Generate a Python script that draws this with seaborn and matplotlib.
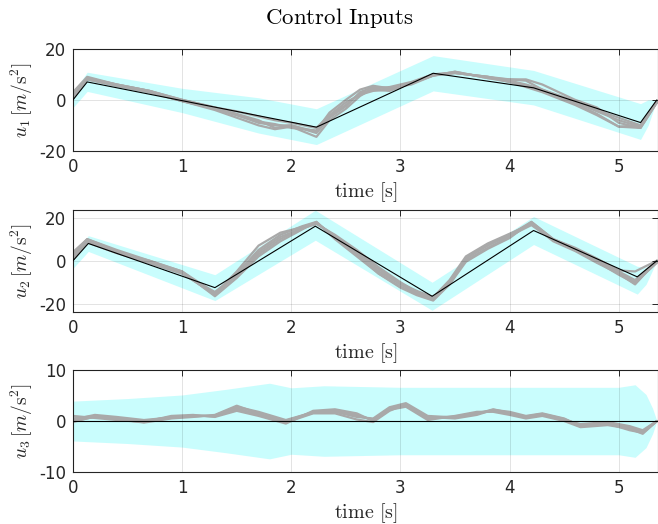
import seaborn as sns
import matplotlib.pyplot as plt
import pandas as pd
import numpy as np

# ---- data ----
# reference (black) input profiles
ref1_t = [0, 0.13, 2.23, 3.3, 4.22, 5.2, 5.35]
ref1_u = [0, 7, -10.7, 10.4, 4.7, -8.9, 0]
ref2_t = [0, 0.14, 1.3, 2.22, 3.29, 4.22, 5.17, 5.35]
ref2_u = [0, 8, -12.5, 16, -16.5, 14, -7.5, 0]
ref3_t = [0, 5.35]
ref3_u = [0, 0]

# cyan bounds
band1_t = [0, 0.13, 1.0, 1.7, 2.23, 3.3, 4.22, 5.2, 5.27, 5.35]
band1_hi = [3, 10.8, 4.5, 0.8, -3.5, 17.3, 11.5, -1.5, 0, 0]
band1_lo = [-3, 3.3, -5, -13, -17.5, 3.5, -2, -15.5, -10, 0]
band2_t = [0, 0.14, 1.3, 2.22, 3.29, 4.22, 5.17, 5.25, 5.35]
band2_hi = [3.5, 11.6, -6.5, 23.4, -10, 20.5, -2.6, -3, 0]
band2_lo = [-3.5, 4.3, -18.5, 9.5, -23, 7.5, -15.5, -11, 0]
band3_t = [0, 0.5, 1.0, 1.4, 1.8, 2.0, 2.3, 3.0, 4.0, 5.0, 5.15, 5.25, 5.31, 5.35]
band3_hi = [3.9, 4.4, 5.1, 6.2, 7.4, 6.5, 6.9, 6.6, 6.6, 6.6, 7.1, 5.2, 2.5, 0]
band3_lo = [-3.9, -4.4, -5.1, -6.2, -7.4, -6.5, -6.9, -6.6, -6.6, -6.6, -7.1, -5.2, -2.5, 0]

# sampled trajectories (gray)
t1 = [0, 0.13, 0.4, 0.7, 1.0, 1.3, 1.5, 1.7, 1.85, 2.0, 2.23, 2.35, 2.5, 2.63,
      2.75, 2.9, 3.1, 3.3, 3.5, 3.8, 4.0, 4.15, 4.3, 4.6, 4.8, 5.0, 5.2, 5.35]
runs1 = [
    [1, 8.5, 6, 3.5, 0, -3, -4.5, -6.5, -8, -9, -11, -6, -1, 2, 3.5, 4, 6.5, 9.5, 10.5, 9, 7.5, 6, 4, -0.5, -4, -7, -10, -1],
    [2, 8, 5.5, 3, -0.5, -3.5, -6, -9, -10, -10, -13, -7, -2.5, 3, 5, 4.5, 6.5, 9.5, 11, 8.5, 7, 5.5, 3.5, -1, -4.5, -8, -10.5, -0.5],
    [3, 9, 6, 3.5, -0.5, -4, -7, -10, -11.5, -10.5, -14.5, -8, -3.5, 1.5, 4.5, 5, 7, 10, 10.5, 9, 8, 8, 6, 0, -3, -9, -11, -1],
    [0.5, 8, 5.5, 3, -0.5, -3.5, -6, -8.5, -9.5, -11, -12, -5, 0, 4, 5.5, 4.5, 6, 9.5, 11, 8.5, 8, 7.5, 4, -1.5, -5.5, -10.5, -10, -0.5],
    [1.5, 8.5, 6, 3.5, 0, -3, -5.5, -8, -11, -10, -12.5, -6.5, -2, 2.5, 4, 3.5, 6.5, 10, 10.5, 9, 7, 5, 3, -2, -6, -10.5, -11, -1],
]
t2 = [0, 0.13, 0.4, 0.7, 1.0, 1.3, 1.5, 1.7, 1.9, 2.1, 2.23, 2.4, 2.6, 2.8,
      3.0, 3.15, 3.3, 3.45, 3.6, 3.8, 4.0, 4.2, 4.4, 4.6, 4.8, 5.0, 5.15, 5.35]
runs2 = [
    [1, 9, 4, 0, -5, -15, -7, 3, 10, 15, 17.5, 11, 3, -5, -11, -15, -17.5, -10, 0, 6, 11, 17.5, 9.5, 5, 0, -5, -9, 0],
    [3, 10, 4.5, -0.5, -5.5, -16, -6, 5, 12, 16, 18, 10, 2, -6, -12, -15.5, -18, -11, 1, 7, 12, 18, 10, 5.5, 0.5, -5.5, -10, -1],
    [2, 9.5, 4, -1, -6, -15.5, -5, 7, 13, 15.5, 17.5, 11.5, 4, -4, -10.5, -14, -17, -9, 2, 8, 12.5, 17, 9, 4.5, -1, -6, -11, 0],
    [4, 10, 5, 0, -5, -16.5, -8, 2, 9, 14.5, 18, 10.5, 3, -6, -12.5, -16, -18.5, -11, -0.5, 5.5, 10.5, 18, 10, 6, 1, -4.5, -5, 0],
    [0.5, 8.5, 3.5, -1, -6, -14.5, -6.5, 4, 11, 15, 17, 12, 5, -3, -10, -14.5, -17, -10, 1, 7.5, 11.5, 16.5, 9.5, 5, -0.5, -6.5, -10.5, -0.5],
]
t3 = [0, 0.2, 0.4, 0.65, 0.9, 1.1, 1.3, 1.5, 1.7, 1.95, 2.2, 2.4, 2.6, 2.75, 2.9,
      3.05, 3.25, 3.5, 3.7, 3.85, 4.0, 4.15, 4.3, 4.5, 4.65, 4.9, 5.1, 5.22, 5.35]
runs3 = [
    [0.5, 1, 0.6, 0, 0.8, 1, 1, 2.5, 1.2, 0, 1.8, 2, 1, 0.3, 2.5, 3, 0.5, 0.8, 1.5, 2, 1.5, 0.8, 1.3, 0.3, -0.8, -0.3, -1.2, -2, 0],
    [0, 0.8, 0.4, -0.3, 0.5, 0.8, 1.2, 3, 1.5, -0.3, 1.5, 1.5, 0.3, -0.2, 2, 3.3, 0.8, 0.5, 1.2, 2.2, 1.8, 1, 1.5, 0.5, -1, -0.5, -1.8, -2.3, 0],
    [1, 0.6, 0.2, -0.2, 1, 1.2, 0.8, 2, 1, -0.5, 2, 2.3, 1.5, 0, 2.2, 2.8, 0.2, 1, 1.8, 1.8, 1.2, 0.5, 1, 0, -1.2, -0.8, -1.5, -2.5, 0],
    [0.3, 1.2, 0.8, 0.2, 0.7, 0.9, 1.1, 2.8, 1.8, 0.2, 1.7, 1.8, 0.8, 0.5, 2.7, 3.5, 1, 0.7, 1.4, 2.3, 1.6, 0.7, 1.2, 0.2, -0.6, -0.2, -1, -1.8, 0],
    [-0.2, 0.9, 0.5, -0.1, 0.6, 1.1, 0.9, 2.3, 1.3, 0, 1.6, 2.1, 1.2, 0.2, 2.4, 3.1, 0.6, 0.9, 1.6, 2.1, 1.4, 0.9, 1.4, 0.4, -0.9, -0.6, -1.4, -2.2, 0],
]

ylabels = [r'$u_1\,[m/\mathrm{s}^2]$', r'$u_2\,[m/\mathrm{s}^2]$', r'$u_3\,[m/\mathrm{s}^2]$']
ylims = [(-20, 20), (-23.7, 23.7), (-10, 10)]
yticks = [[-20, 0, 20], [-20, 0, 20], [-10, 0, 10]]
xticks = [0, 1, 2, 3, 4, 5]

sns.set_style("white")
plt.rcParams['mathtext.fontset'] = 'cm'
plt.rcParams['axes.unicode_minus'] = False
plt.rcParams['font.family'] = ['DejaVu Sans']

fig = plt.figure(figsize=(6.58, 5.24), dpi=100)
bottoms = [0.712, 0.405, 0.099]
panels = [
    (ref1_t, ref1_u, band1_t, band1_lo, band1_hi, t1, runs1),
    (ref2_t, ref2_u, band2_t, band2_lo, band2_hi, t2, runs2),
    (ref3_t, ref3_u, band3_t, band3_lo, band3_hi, t3, runs3),
]
dark = '#262626'

for i, (rt, ru, bt, blo, bhi, tt, runs) in enumerate(panels):
    ax = fig.add_axes([0.111, bottoms[i], 0.889, 0.195])
    ax.fill_between(bt, blo, bhi, color='#c9fdfd', lw=0, zorder=1)
    df = pd.DataFrame({
        "t": np.tile(tt, len(runs)),
        "u": np.concatenate(runs),
        "run": np.repeat(np.arange(len(runs)), len(tt)),
    })
    sns.lineplot(data=df, x="t", y="u", units="run", estimator=None,
                 color='#a9a9a9', lw=1.6, ax=ax, zorder=2)
    sns.lineplot(x=rt, y=ru, color='black', lw=0.8, ax=ax, zorder=3)
    ax.set_xlim(0, 5.36)
    ax.set_ylim(*ylims[i])
    ax.set_xticks(xticks)
    ax.set_yticks(yticks[i])
    ax.grid(True, color='black', alpha=0.13, lw=0.6)
    ax.set_axisbelow(False)
    ax.tick_params(direction='in', length=4, width=0.7, colors=dark,
                   labelsize=12, top=True, right=True, pad=5)
    for s in ax.spines.values():
        s.set_color(dark)
        s.set_linewidth(0.8)
    ax.set_xlabel(r'$\mathrm{time\ [s]}$', fontsize=14.5, color=dark, labelpad=3)
    ax.set_ylabel(ylabels[i], fontsize=14, color=dark, labelpad=3)

fig.text(0.515, 0.965, r'$\mathrm{Control\ Inputs}$', ha='center', va='center',
         fontsize=16.5, color='black')

fig.savefig("out.png", dpi=100)
